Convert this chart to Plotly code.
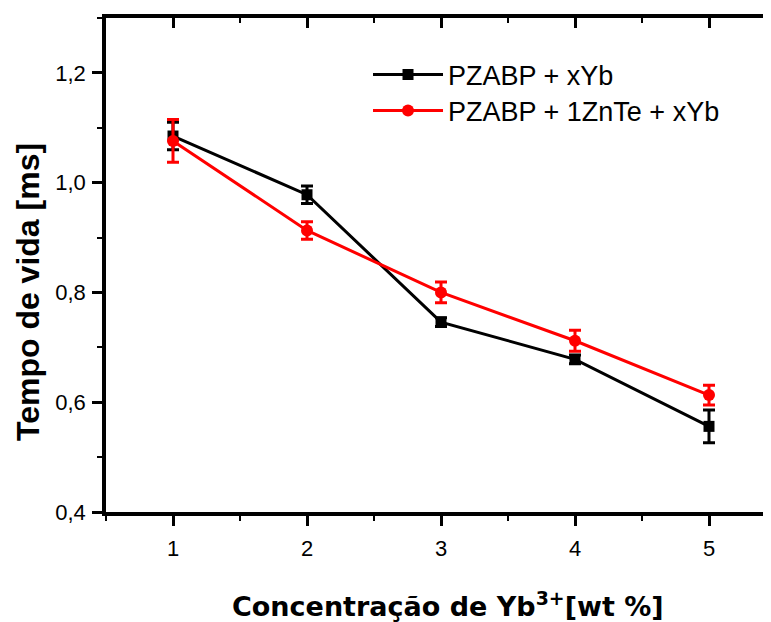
import plotly.graph_objects as go

conc = [1, 2, 3, 4, 5]
pzabp = [1.085, 0.978, 0.746, 0.678, 0.556]
pzabp_err = [0.025, 0.016, 0.008, 0.008, 0.030]
znte = [1.076, 0.913, 0.800, 0.712, 0.613]
znte_err = [0.039, 0.016, 0.019, 0.019, 0.018]

names = ["PZABP + xYb", "PZABP + 1ZnTe + xYb"]
x_title = "<b>Concentração de Yb<sup>3+</sup>[wt %]</b>"
y_title = "<b>Tempo de vida [ms]</b>"

FONT = "Liberation Sans, Arial, sans-serif"
TFONT = "DejaVu Sans, Verdana, sans-serif"

fig = go.Figure()
fig.add_trace(go.Scatter(
    x=conc, y=pzabp, name=names[0], mode="lines+markers", legend="legend",
    line=dict(color="black", width=3),
    marker=dict(symbol="square", size=11, color="black"),
    error_y=dict(type="data", array=pzabp_err, visible=True, color="black", thickness=3, width=6),
))
fig.add_trace(go.Scatter(
    x=conc, y=znte, name=names[1], mode="lines+markers", legend="legend2",
    line=dict(color="#ff0000", width=3),
    marker=dict(symbol="circle", size=12, color="#ff0000"),
    error_y=dict(type="data", array=znte_err, visible=True, color="#ff0000", thickness=3, width=6),
))

xr = [0.5, 5.5 - 5 / 134]
yr = [0.4, 1.3]

leg_common = dict(xanchor="left", yanchor="middle", bgcolor="rgba(0,0,0,0)", borderwidth=0,
                  font=dict(size=27, family=FONT, color="black"), itemwidth=70)

fig.update_layout(
    width=763, height=614,
    margin=dict(l=98, r=0, t=10, b=110),
    paper_bgcolor="white", plot_bgcolor="white",
    separators=",.",
    font=dict(family=FONT, color="black"),
    showlegend=True,
    legend=dict(x=0.394, y=0.8846, **leg_common),
    legend2=dict(x=0.394, y=0.8117, **leg_common),
    xaxis=dict(
        range=xr, showgrid=False, zeroline=False, automargin=False,
        showline=True, linecolor="black", linewidth=3.5, mirror=True,
        ticks="outside", ticklen=10, tickwidth=3, tickcolor="black",
        tick0=1, dtick=1, ticklabelstandoff=4,
        minor=dict(ticks="outside", ticklen=5, tickwidth=2, tickcolor="black", dtick=0.5, tick0=0.5),
        tickfont=dict(size=22, family=FONT, color="black"),
    ),
    yaxis=dict(
        range=yr, showgrid=False, zeroline=False, automargin=False,
        showline=True, linecolor="black", linewidth=3.5,
        ticks="outside", ticklen=10, tickwidth=3, tickcolor="black",
        tick0=0.4, dtick=0.2, tickformat=".1f", ticklabelstandoff=2,
        minor=dict(ticks="outside", ticklen=5, tickwidth=2, tickcolor="black", dtick=0.1, tick0=0.4),
        tickfont=dict(size=22, family=FONT, color="black"),
    ),
    xaxis2=dict(
        range=xr, overlaying="x", side="top", anchor="y", automargin=False,
        showgrid=False, zeroline=False, showline=False, showticklabels=False,
        ticks="inside", ticklen=10, tickwidth=3, tickcolor="black",
        tick0=1, dtick=1,
        minor=dict(ticks="inside", ticklen=5, tickwidth=2, tickcolor="black", dtick=0.5, tick0=0.5),
    ),
    yaxis2=dict(
        range=yr, overlaying="y", side="right", anchor="x", automargin=False,
        showgrid=False, zeroline=False, showline=False, showticklabels=False,
        ticks="inside", ticklen=6, tickwidth=3, tickcolor="black",
        tick0=0.4, dtick=0.2,
        minor=dict(ticks="inside", ticklen=3, tickwidth=2, tickcolor="black", dtick=0.1, tick0=0.4),
    ),
    annotations=[
        dict(text=x_title, xref="paper", yref="paper", x=0.514, y=-0.188,
             xanchor="center", yanchor="middle", showarrow=False,
             font=dict(size=27, family=TFONT, color="black")),
        dict(text=y_title, xref="paper", yref="paper", x=-0.1173, y=0.4453,
             xanchor="center", yanchor="middle", showarrow=False, textangle=-90,
             font=dict(size=32, family=FONT, color="black")),
    ],
)

fig.add_trace(go.Scatter(x=[None], y=[None], xaxis="x2", yaxis="y2", showlegend=False, hoverinfo="skip"))

fig.write_html("out.html")
